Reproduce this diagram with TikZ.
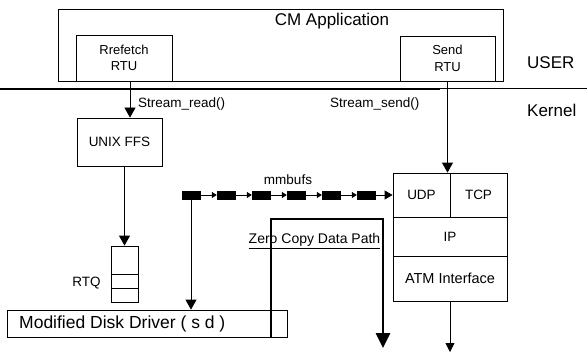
\documentclass[tikz,border=0pt]{standalone}
\usepackage{fontspec}
\setmainfont{Liberation Sans}
\usetikzlibrary{arrows.meta}

\begin{document}
\begin{tikzpicture}[x=1pt,y=-1pt,
  box/.style={draw, line width=0.8pt, inner sep=0pt},
  lbl/.style={inner sep=0pt, font=\fontsize{13.5}{15.5}\selectfont},
  biglbl/.style={inner sep=0pt, font=\fontsize{17}{19}\selectfont},
  buf/.style={fill=black, draw=black, minimum width=18pt, minimum height=8pt, inner sep=0pt},
  arr/.style={line width=0.8pt, -{Triangle[length=10pt,width=11pt]}},
  smallarr/.style={line width=0.8pt, -{Triangle[length=5pt,width=6pt]}},
  zcarr/.style={line width=2.6pt, -{Triangle[length=15pt,width=14pt]}}
]
\useasboundingbox (0,0) rectangle (587,353);

% user / kernel boundary
\coordinate (sepL) at (0,89);
\coordinate (sepM) at (440,89);
\coordinate (sepR) at (587,89);
\draw[line width=2.5pt] (sepL) -- (sepM);
\draw[line width=1pt] (sepM) -- (sepR);
\node[biglbl, anchor=west] (user) at (527,63) {USER};
\node[biglbl, anchor=west] (kernel) at (527,110) {Kernel};

% application and its RTUs
\node[box, minimum width=445pt, minimum height=72pt] (app) at (280.5,45) {};
\node[biglbl] (apptext) at (332,21) {CM Application};
\node[box, fill=white, minimum width=96pt, minimum height=46pt, align=center,
      font=\fontsize{13}{16.5}\selectfont] (prefetch) at (124,58) {Rrefetch\\RTU};
\node[box, fill=white, minimum width=95pt, minimum height=45pt, align=center,
      font=\fontsize{13}{16.5}\selectfont] (send) at (447.5,58.5) {Send\\RTU};

% file system side
\node[box, minimum width=85pt, minimum height=48pt, lbl] (ffs) at (119.5,142) {UNIX FFS};
\node[box, minimum width=27pt, minimum height=56pt] (rtq) at (124.5,274) {};
\draw[line width=0.8pt] (rtq.west |- 0,274) -- (rtq.east |- 0,274);
\draw[line width=0.8pt] (rtq.west |- 0,288) -- (rtq.east |- 0,288);
\node[lbl] (rtqtext) at (86.5,283) {RTQ};
\node[box, minimum width=280pt, minimum height=27pt] (disk) at (147,323.5) {};
\node[inner sep=0pt, anchor=west, font=\fontsize{17.5}{19}\selectfont] (disktext) at (19,324) {Modified Disk Driver ( s d )};

% protocol stack
\node[box, minimum width=57pt, minimum height=44pt, lbl] (udp) at (421.5,195) {UDP};
\node[box, minimum width=57pt, minimum height=44pt, lbl] (tcp) at (478.5,195) {TCP};
\node[box, minimum width=114pt, minimum height=39pt, lbl] (ip) at (450,236.5) {IP};
\node[box, minimum width=114pt, minimum height=45pt, font=\fontsize{14.5}{16}\selectfont, inner sep=0pt] (atm) at (450,278.5) {ATM Interface};

% mbuf chain
\node[lbl] (mmbufs) at (288,180) {mmbufs};
\node[buf] (b1) at (191,195) {};
\node[buf] (b2) at (226,195) {};
\node[buf] (b3) at (261,195) {};
\node[buf] (b4) at (296,195) {};
\node[buf] (b5) at (331,195) {};
\node[buf] (b6) at (366,195) {};
\draw[smallarr] (b1) -- (b2);
\draw[smallarr] (b2) -- (b3);
\draw[smallarr] (b3) -- (b4);
\draw[smallarr] (b4) -- (b5);
\draw[smallarr] (b5) -- (b6);
\draw[line width=0.8pt, -{Triangle[length=8pt,width=9pt]}] (b6) -- (udp.west |- b6);

% calls and data flow
\draw[arr] ([xshift=6pt]prefetch.south) -- ([xshift=6pt]prefetch.south |- ffs.north);
\node[lbl, anchor=west] (sread) at (138,104) {Stream\_read()};
\draw[arr] (send.south) -- (send.south |- udp.north);
\node[lbl, anchor=west] (ssend) at (330,104) {Stream\_send()};
\draw[arr] (rtq.north |- ffs.south) -- (rtq.north);
\draw[arr] (b1) -- (b1 |- disk.north);
\coordinate (netout) at (450,352);
\draw[line width=0.8pt, -{Triangle[length=9pt,width=9pt]}] (atm.south) -- (netout);

% zero copy path
\coordinate (zc0) at (271,337);
\coordinate (zc1) at (271,219);
\coordinate (zc2) at (383,219);
\coordinate (zc3) at (383,348);
\draw[zcarr] (zc0) -- (zc1) -- (zc2) -- (zc3);
\node[inner sep=0pt, font=\fontsize{14}{16}\selectfont] (zctext) at (314.5,241) {\underline{Zero Copy Data Path}};
\end{tikzpicture}
\end{document}
